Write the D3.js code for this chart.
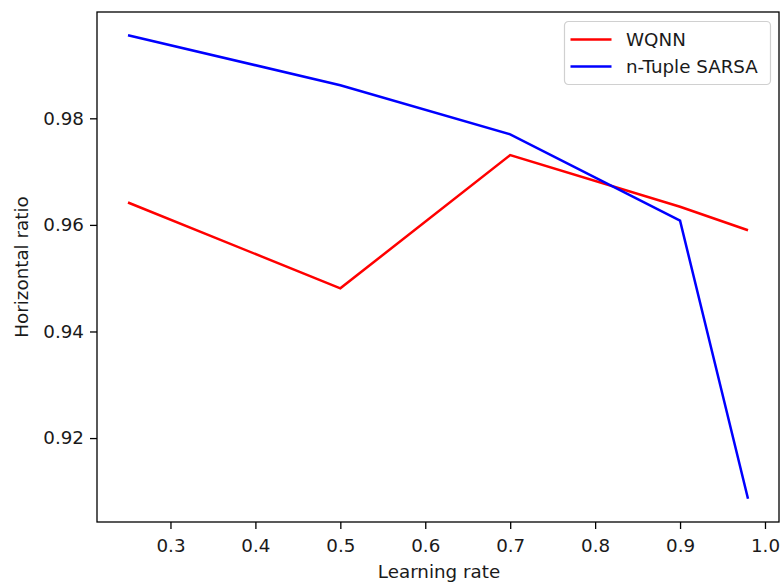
<!DOCTYPE html>
<html>
<head>
<meta charset="utf-8">
<script src="https://cdn.jsdelivr.net/npm/d3@7"></script>
<style>
  html, body { margin: 0; padding: 0; background: #fff; }
  svg { display: block; font-family: "DejaVu Sans", sans-serif; }
</style>
</head>
<body>
<svg id="chart" width="783" height="585"></svg>
<script>
// Learning rates tested
const learningRates = [0.25, 0.5, 0.7, 0.9, 0.98];
// Horizontal ratio reached by each method
const wqnn = [0.9642, 0.9481, 0.9731, 0.9634, 0.9590];
const nTupleSarsa = [0.9956, 0.9862, 0.9770, 0.9608, 0.9086];
const seriesNames = ["WQNN", "n-Tuple SARSA"];
const seriesColors = ["#ff0000", "#0000ff"];
const xTicks = [0.3, 0.4, 0.5, 0.6, 0.7, 0.8, 0.9, 1.0];
const yTicks = [0.92, 0.94, 0.96, 0.98];

const svg = d3.select("#chart");
const W = 783, H = 585;
const m = { left: 97, top: 12, right: W - 779, bottom: H - 522 };
const iw = W - m.left - m.right, ih = H - m.top - m.bottom;
const fs = 18.3;
const textColor = "#1a1a1a";

// Pad the data extents by 5% on each side
function padded(ext) {
  const p = (ext[1] - ext[0]) * 0.05;
  return [ext[0] - p, ext[1] + p];
}
const x = d3.scaleLinear().domain(padded(d3.extent(learningRates))).range([0, iw]);
const y = d3.scaleLinear().domain(padded(d3.extent(wqnn.concat(nTupleSarsa)))).range([ih, 0]);

const g = svg.append("g").attr("transform", `translate(${m.left},${m.top})`);

// Axes
const xAxis = g.append("g").attr("transform", `translate(0,${ih})`)
  .call(d3.axisBottom(x).tickValues(xTicks).tickFormat(d3.format(".1f")).tickSize(7).tickPadding(6));
const yAxis = g.append("g")
  .call(d3.axisLeft(y).tickValues(yTicks).tickFormat(d3.format(".2f")).tickSize(7).tickPadding(6));
[xAxis, yAxis].forEach(a => {
  a.select(".domain").remove();
  a.selectAll(".tick line").attr("stroke", "#000").attr("stroke-width", 1.3);
  a.selectAll(".tick text").attr("fill", textColor).style("font-size", fs + "px")
    .style("font-family", "DejaVu Sans, sans-serif");
});
xAxis.selectAll(".tick text").attr("dy", "0.95em");

// Lines
const line = d3.line().x((d, i) => x(learningRates[i])).y(d => y(d));
[wqnn, nTupleSarsa].forEach((vals, k) => {
  g.append("path").datum(vals).attr("d", line)
    .attr("fill", "none").attr("stroke", seriesColors[k]).attr("stroke-width", 2.5)
    .attr("stroke-linejoin", "miter").attr("stroke-linecap", "butt");
});

// Frame
g.append("rect").attr("x", 0).attr("y", 0).attr("width", iw).attr("height", ih)
  .attr("fill", "none").attr("stroke", "#000").attr("stroke-width", 1.3);

// Axis titles
svg.append("text").attr("x", m.left + iw / 2 + 1).attr("y", 578)
  .attr("text-anchor", "middle").attr("fill", textColor).style("font-size", fs + "px").text("Learning rate");
svg.append("text").attr("transform", `translate(28,${m.top + ih / 2}) rotate(-90)`)
  .attr("text-anchor", "middle").attr("fill", textColor).style("font-size", fs + "px").text("Horizontal ratio");

// Legend
const lg = svg.append("g").attr("transform", "translate(564.5,21.5)");
lg.append("rect").attr("width", 206).attr("height", 63).attr("rx", 4)
  .attr("fill", "#fff").attr("fill-opacity", 0.8).attr("stroke", "#d0d0d0").attr("stroke-width", 1.2);
seriesNames.forEach((name, k) => {
  const yy = 18 + k * 27;
  lg.append("line").attr("x1", 6).attr("x2", 47).attr("y1", yy).attr("y2", yy)
    .attr("stroke", seriesColors[k]).attr("stroke-width", 2.5);
  lg.append("text").attr("x", 61.5).attr("y", yy).attr("dy", "0.35em")
    .style("font-size", fs + "px").attr("fill", textColor).text(name);
});
</script>
</body>
</html>
